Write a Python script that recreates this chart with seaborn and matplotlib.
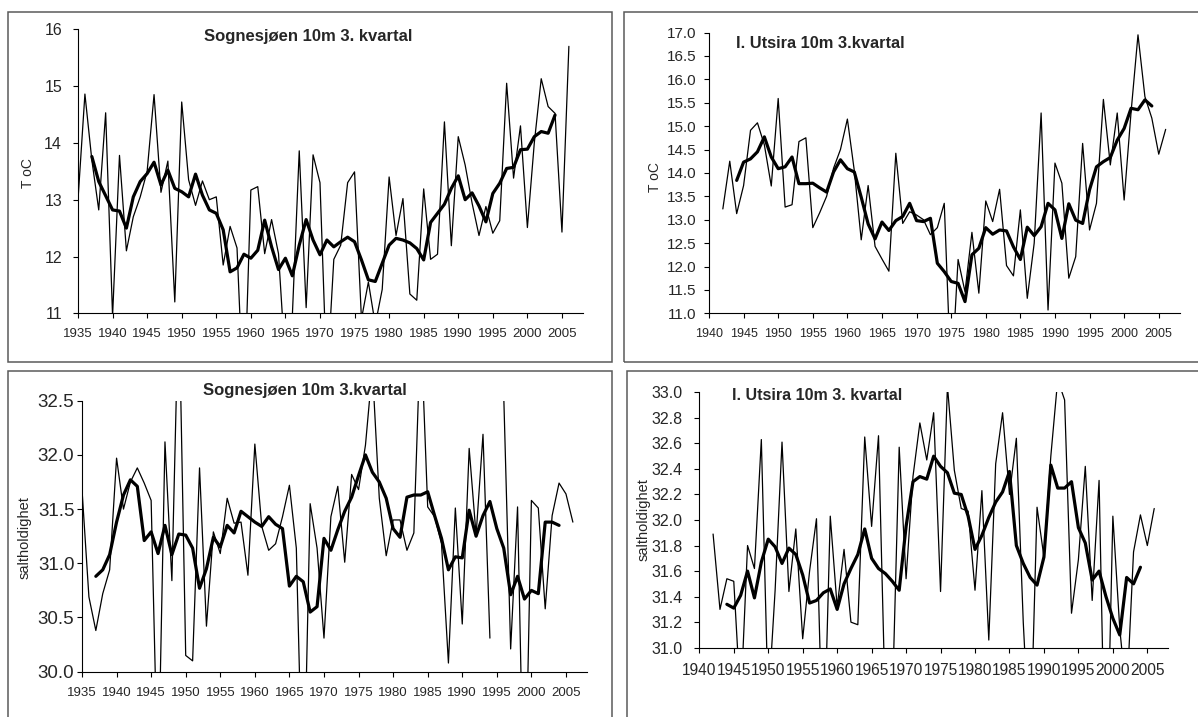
import numpy as np
import pandas as pd
import matplotlib
matplotlib.use("Agg")
import matplotlib.pyplot as plt
from matplotlib.patches import Rectangle
from matplotlib.ticker import FormatStrFormatter
import seaborn as sns

# ---------------- data ----------------
# Sognesjøen, 10 m, 3rd quarter temperature
sog_t_years = list(range(1935, 2007))
sog_t_values = [
    13.0, 14.86, 13.7, 12.82, 14.53, 10.95, 13.78, 12.1, 12.7, 13.05,
    13.5, 14.85, 13.13, 13.68, 11.2, 14.72, 13.35, 12.9, 13.33, 13.0,
    13.05, 11.85, 12.53, 12.15, 9.3, 13.17, 13.23, 12.05, 12.65, 12.05,
    10.1, 10.95, 13.86, 11.1, 13.79, 13.3, 9.8, 11.95, 12.2, 13.3,
    13.49, 10.9, 11.55, 10.8, 11.42, 13.4, 12.37, 13.02, 11.34, 11.23,
    13.19, 11.95, 12.04, 14.37, 12.19, 14.11, 13.61, 12.94, 12.37, 12.88,
    12.41, 12.63, 15.05, 13.38, 14.3, 12.51, 14.0, 15.13, 14.64, 14.52,
    12.43, 15.7,
]
sog_t_smooth_years = list(range(1937, 2005))
sog_t_smooth = [
    13.76, 13.32, 13.07, 12.82, 12.8, 12.5, 13.05, 13.32, 13.46, 13.66,
    13.26, 13.52, 13.2, 13.14, 13.05, 13.45, 13.08, 12.82, 12.76, 12.47,
    11.73, 11.8, 12.04, 11.97, 12.11, 12.64, 12.17, 11.77, 11.97, 11.66,
    12.2, 12.65, 12.29, 12.03, 12.29, 12.17, 12.26, 12.34, 12.26, 11.94,
    11.59, 11.56, 11.88, 12.2, 12.32, 12.29, 12.24, 12.14, 11.94, 12.6,
    12.76, 12.92, 13.2, 13.42, 13.0, 13.12, 12.89, 12.61, 13.11, 13.29,
    13.55, 13.57, 13.88, 13.89, 14.11, 14.2, 14.17, 14.49,
]

# Indre Utsira, 10 m, 3rd quarter temperature
uts_t_years = list(range(1942, 2007))
uts_t_values = [
    13.23, 14.25, 13.13, 13.73, 14.91, 15.07, 14.6, 13.72, 15.59, 13.27,
    13.32, 14.67, 14.75, 12.83, 13.15, 13.5, 14.1, 14.5, 15.15, 14.05,
    12.57, 13.73, 12.43, 12.16, 11.9, 14.42, 12.92, 13.17, 13.1, 13.0,
    12.68, 12.83, 13.35, 9.5, 12.15, 11.46, 12.73, 11.43, 13.4, 12.96,
    13.65, 12.02, 11.8, 13.21, 11.32, 12.5, 15.28, 11.07, 14.21, 13.78,
    11.75, 12.21, 14.63, 12.78, 13.35, 15.57, 14.17, 15.28, 13.42, 15.3,
    16.95, 15.63, 15.17, 14.4, 14.93,
]
uts_t_smooth_years = list(range(1944, 2005))
uts_t_smooth = [
    13.84, 14.23, 14.3, 14.45, 14.77, 14.34, 14.09, 14.13, 14.34, 13.77,
    13.77, 13.78, 13.68, 13.59, 14.02, 14.28, 14.09, 14.02, 13.48, 12.91,
    12.59, 12.95, 12.77, 12.98, 13.07, 13.35, 12.98, 12.96, 13.03, 12.07,
    11.89, 11.68, 11.64, 11.25, 12.25, 12.39, 12.83, 12.69, 12.78, 12.76,
    12.42, 12.15, 12.84, 12.66, 12.85, 13.35, 13.21, 12.6, 13.34, 12.99,
    12.92, 13.64, 14.13, 14.24, 14.33, 14.7, 14.95, 15.38, 15.35, 15.56,
    15.43,
]

# Sognesjøen, 10 m, 3rd quarter salinity (1995 missing)
sog_s_years = list(range(1935, 2007))
sog_s_values = [
    31.68, 30.69, 30.38, 30.72, 30.94, 31.97, 31.5, 31.75, 31.88, 31.74,
    31.58, 28.9, 32.12, 30.84, 33.5, 30.15, 30.1, 31.88, 30.42, 31.29,
    31.09, 31.6, 31.37, 31.38, 30.89, 32.1, 31.34, 31.12, 31.18, 31.43,
    31.72, 31.14, 28.6, 31.55, 31.14, 30.31, 31.43, 31.71, 31.01, 31.82,
    31.68, 32.09, 32.8, 31.6, 31.07, 31.4, 31.4, 31.12, 31.28, 33.2,
    31.52, 31.43, 31.18, 30.08, 31.51, 30.44, 32.06, 31.26, 32.19, 30.31,
    np.nan, 32.55, 30.21, 31.52, 28.4, 31.58, 31.51, 30.58, 31.44, 31.74,
    31.64, 31.38,
]
sog_s_smooth_years = list(range(1937, 2005))
sog_s_smooth = [
    30.88, 30.94, 31.08, 31.38, 31.63, 31.77, 31.71, 31.21, 31.29, 31.09,
    31.35, 31.08, 31.27, 31.26, 31.14, 30.77, 30.95, 31.24, 31.15, 31.35,
    31.28, 31.48, 31.43, 31.38, 31.34, 31.43, 31.36, 31.32, 30.79, 30.88,
    30.83, 30.55, 30.6, 31.23, 31.12, 31.31, 31.48, 31.61, 31.81, 32.0,
    31.84, 31.75, 31.6, 31.32, 31.24, 31.61, 31.63, 31.63, 31.66, 31.44,
    31.23, 30.94, 31.06, 31.05, 31.49, 31.25, 31.44, 31.57, 31.32, 31.14,
    30.71, 30.88, 30.67, 30.75, 30.72, 31.38, 31.38, 31.35,
]

# Indre Utsira, 10 m, 3rd quarter salinity
uts_s_years = list(range(1942, 2007))
uts_s_values = [
    31.89, 31.3, 31.54, 31.52, 30.56, 31.8, 31.62, 32.63, 30.55, 31.45,
    32.61, 31.44, 31.93, 31.07, 31.6, 32.01, 30.0, 32.03, 31.32, 31.77,
    31.2, 31.18, 32.65, 31.95, 32.66, 30.5, 30.55, 32.57, 31.54, 32.34,
    32.76, 32.47, 32.84, 31.44, 33.05, 32.39, 32.09, 32.07, 31.45, 32.23,
    31.06, 32.44, 32.84, 32.2, 32.64, 31.2, 30.15, 32.1, 31.71, 32.5,
    33.1, 32.94, 31.27, 31.69, 32.42, 31.37, 32.31, 29.65, 32.03, 31.15,
    30.6, 31.75, 32.04, 31.8, 32.09,
]
uts_s_smooth_years = list(range(1944, 2005))
uts_s_smooth = [
    31.34, 31.31, 31.41, 31.6, 31.39, 31.67, 31.85, 31.79, 31.66, 31.78,
    31.73, 31.57, 31.35, 31.37, 31.43, 31.46, 31.3, 31.5, 31.62, 31.73,
    31.93, 31.7, 31.62, 31.58, 31.52, 31.45, 31.95, 32.3, 32.34, 32.32,
    32.5, 32.42, 32.37, 32.21, 32.2, 32.03, 31.77, 31.88, 32.02, 32.14,
    32.22, 32.38, 31.8, 31.66, 31.55, 31.49, 31.71, 32.43, 32.25, 32.25,
    32.3, 31.94, 31.82, 31.53, 31.6, 31.4, 31.23, 31.1, 31.55, 31.5,
    31.63,
]

titles = [
    "Sognesjøen 10m 3. kvartal",
    "I. Utsira 10m 3.kvartal",
    "Sognesjøen 10m 3.kvartal",
    "I. Utsira 10m 3. kvartal",
]
ylabels = ["T oC", "T oC", "saltholdighet", "saltholdighet"]

# ---------------- style ----------------
sns.set_theme(style="white")
plt.rcParams["font.family"] = ["Liberation Sans", "DejaVu Sans"]
plt.rcParams["axes.edgecolor"] = "black"
plt.rcParams["axes.linewidth"] = 0.8

W, H = 1198, 717
fig = plt.figure(figsize=(W / 100, H / 100), dpi=100)
fig.patch.set_facecolor("white")


def fx(px):
    return px / W


def fy(py):
    return 1 - py / H


def add_axes(x0, x1, y_top, y_bot):
    return fig.add_axes([fx(x0), fy(y_bot), fx(x1) - fx(x0), (y_bot - y_top) / H])


# panel frames (chart-area borders)
for (x0, y0, x1, y1) in [(8.3, 12.3, 612.3, 361.7), (624.3, 12.3, 1210, 361.7),
                         (8.3, 371, 612.3, 730), (627.3, 371, 1210, 730)]:
    fig.patches.append(Rectangle((fx(x0), fy(y1)), fx(x1) - fx(x0), (y1 - y0) / H,
                                 transform=fig.transFigure, fill=False,
                                 edgecolor="#5a5a5a", linewidth=1.1, zorder=0))


def draw_panel(ax, years, values, s_years, s_values, xlim, ylim, yticks, yfmt,
               xtick_size, ytick_size, xpad, ypad):
    raw = pd.DataFrame({"year": years, "value": values})
    raw["seg"] = raw["value"].isna().cumsum()
    raw = raw.dropna()
    sm = pd.DataFrame({"year": s_years, "value": s_values})
    sns.lineplot(data=raw, x="year", y="value", units="seg", estimator=None,
                 color="black", linewidth=0.9, ax=ax, legend=False)
    sns.lineplot(data=sm, x="year", y="value", color="black", linewidth=2.3,
                 ax=ax, legend=False, solid_joinstyle="round", solid_capstyle="round")
    ax.set_xlim(*xlim)
    ax.set_ylim(*ylim)
    ax.set_xticks(list(range(xlim[0], 2006, 5)))
    ax.set_yticks(yticks)
    if yfmt:
        ax.yaxis.set_major_formatter(FormatStrFormatter(yfmt))
    ax.set_xlabel("")
    ax.set_ylabel("")
    for s in ("top", "right"):
        ax.spines[s].set_visible(False)
    ax.tick_params(axis="x", direction="out", length=3.5, width=0.8, color="black",
                   labelsize=xtick_size, pad=xpad, bottom=True)
    ax.tick_params(axis="y", direction="out", length=3.5, width=0.8, color="black",
                   labelsize=ytick_size, pad=ypad, left=True)
    ax.set_facecolor("none")
    ax.grid(False)


ax1 = add_axes(78, 582.7, 29.3, 313.3)
draw_panel(ax1, sog_t_years, sog_t_values, sog_t_smooth_years, sog_t_smooth,
           (1935, 2008), (11, 16), list(range(11, 17)), None, 9.5, 11.5, 7, 8)

ax2 = add_axes(709, 1179.5, 32.5, 313.3)
draw_panel(ax2, uts_t_years, uts_t_values, uts_t_smooth_years, uts_t_smooth,
           (1940, 2008), (11, 17), list(np.arange(11.0, 17.01, 0.5)), "%.1f", 9, 11, 7, 5.5)

ax3 = add_axes(82, 586.7, 400.7, 671.7)
draw_panel(ax3, sog_s_years, sog_s_values, sog_s_smooth_years, sog_s_smooth,
           (1935, 2008), (30.0, 32.5), list(np.arange(30.0, 32.51, 0.5)), "%.1f", 9.5, 13.5, 7.5, 2)

ax4 = add_axes(699.3, 1168, 392.3, 647.7)
draw_panel(ax4, uts_s_years, uts_s_values, uts_s_smooth_years, uts_s_smooth,
           (1940, 2008), (31.0, 33.0), list(np.arange(31.0, 33.01, 0.2)), "%.1f", 11.2, 11.5, 7.5, 8.5)

# titles
title_pos = [(204, 36.7, 12), (736, 44, 11.8), (202.7, 390, 12), (731.7, 395, 11.5)]
for (x, y, fs), t in zip(title_pos, titles):
    fig.text(fx(x), fy(y), t, ha="left", va="center", fontsize=fs, fontweight="bold")

# axis titles
ylab_pos = [(28.3, 173, 10), (655, 176.7, 10), (25, 538, 10.5), (643.3, 520, 10.5)]
for (x, y, fs), t in zip(ylab_pos, ylabels):
    fig.text(fx(x), fy(y), t, ha="center", va="center", rotation=90, fontsize=fs)

fig.savefig("out.png", dpi=100, facecolor="white")
